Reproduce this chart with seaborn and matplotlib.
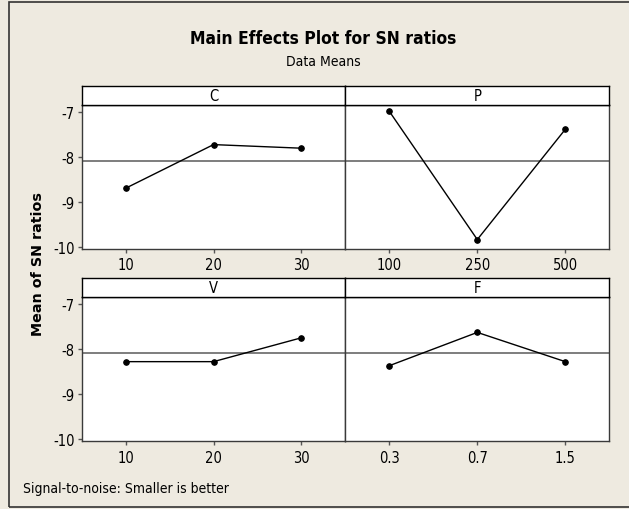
import numpy as np
import pandas as pd
import seaborn as sns
import matplotlib.pyplot as plt
from matplotlib.patches import Rectangle

# Data
factors = ['C', 'P', 'V', 'F']
levels_C = ['10', '20', '30']
sn_C = [-8.70, -7.73, -7.81]
levels_P = ['100', '250', '500']
sn_P = [-6.99, -9.84, -7.39]
levels_V = ['10', '20', '30']
sn_V = [-8.28, -8.28, -7.75]
levels_F = ['0.3', '0.7', '1.5']
sn_F = [-8.37, -7.63, -8.28]
y_ticks = [-7, -8, -9, -10]

levels = {'C': levels_C, 'P': levels_P, 'V': levels_V, 'F': levels_F}
values = {'C': sn_C, 'P': sn_P, 'V': sn_V, 'F': sn_F}
grand_mean = np.mean(sn_C + sn_P + sn_V + sn_F)

sns.set_theme(style='white')
plt.rcParams['font.family'] = ['DejaVu Sans']
plt.rcParams['font.stretch'] = 'condensed'
plt.rcParams['text.color'] = 'black'
plt.rcParams['xtick.color'] = 'black'
plt.rcParams['ytick.color'] = 'black'

W, H = 629, 510
bg = '#EEEAE0'
fig = plt.figure(figsize=(W / 100, H / 100), dpi=100)
fig.patch.set_facecolor(bg)

# outer frame
fig.patches.append(Rectangle((9 / W, 2 / H), 1.0, (508 - 3) / H, transform=fig.transFigure,
                             fill=False, edgecolor='#333333', linewidth=1.2))

# panel geometry in pixels
col_x = [(81.7, 345.3), (345.3, 609.3)]
row_y = [(106.0, 250.0), (298.3, 442.3)]
strip_h = 19.5

for i, fac in enumerate(factors):
    r, c = divmod(i, 2)
    x0, x1 = col_x[c]
    y0, y1 = row_y[r]
    ax = fig.add_axes([x0 / W, (H - y1) / H, (x1 - x0) / W, (y1 - y0) / H])
    df = pd.DataFrame({'level': levels[fac], 'sn': values[fac]})
    ax.axhline(grand_mean, color='#5a5a5a', linewidth=1.1, zorder=1)
    sns.pointplot(data=df, x='level', y='sn', order=levels[fac], ax=ax, color='black',
                  markers='o', markersize=4, linewidth=1, errorbar=None)
    ax.set_xlim(-0.5, 2.5)
    ax.set_ylim(-10.05, -6.85)
    ax.set_xlabel('')
    ax.set_ylabel('')
    ax.set_facecolor('white')
    for s in ax.spines.values():
        s.set_color('#3a3a3a')
        s.set_linewidth(1)
    ax.spines['top'].set_color('black')
    ax.tick_params(axis='x', length=3, width=1, color='#555555', labelsize=10.5, pad=3,
                   direction='out', bottom=True)
    if c == 0:
        ax.set_yticks(y_ticks)
        ax.set_yticklabels([str(t) for t in y_ticks])
        ax.tick_params(axis='y', length=3, width=1, color='#555555', labelsize=10.5, pad=2,
                       direction='out', left=True)
    else:
        ax.set_yticks([])

    # strip
    sax = fig.add_axes([x0 / W, (H - y0) / H, (x1 - x0) / W, strip_h / H])
    sax.set_facecolor('white')
    sax.set_xticks([])
    sax.set_yticks([])
    for s in sax.spines.values():
        s.set_color('black')
        s.set_linewidth(1)
    sax.text(0.5, 0.5, fac, ha='center', va='center', fontsize=10.5, transform=sax.transAxes)

fig.text(323 / W, 1 - 39 / H, 'Main Effects Plot for SN ratios', ha='center', va='center',
         fontsize=12.5, fontweight='bold')
fig.text(323 / W, 1 - 62 / H, 'Data Means', ha='center', va='center', fontsize=10)
fig.text(37.7 / W, 1 - 264 / H, 'Mean of SN ratios', ha='center', va='center', rotation=90,
         fontsize=10.3, fontweight='bold', fontstretch='normal')
fig.text(22.7 / W, 1 - 489 / H, 'Signal-to-noise: Smaller is better', ha='left', va='center',
         fontsize=10)

fig.savefig('out.png', dpi=100, facecolor=bg)
